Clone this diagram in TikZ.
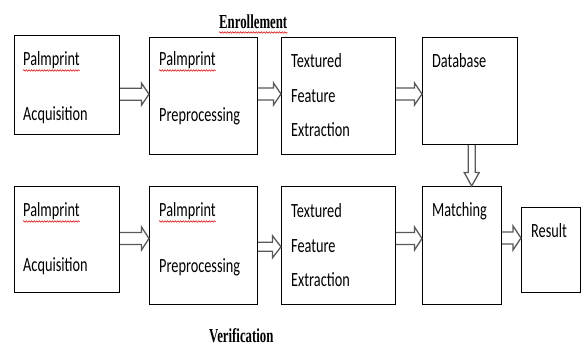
\documentclass[tikz,border=0pt]{standalone}
\usepackage{fontspec}
\usepackage{graphicx}
\setmainfont{Carlito}
\newfontfamily\serifbold{Liberation Serif}
\usetikzlibrary{calc,decorations.pathmorphing}

\newcommand\tx[1]{\scalebox{1}[1.41]{#1}}
\newcommand\hd[1]{\scalebox{1}[1.55]{\serifbold\bfseries #1}}

% horizontal block arrow: from, to, center y, shaft half, head half, head length
\newcommand\harrow[6]{%
 \draw[barrow] let \p1=(#1.east), \p2=(#2.west) in
 (\x1,{(#4-#3)*1pt}) -- ({\x2-#6*1pt},{(#4-#3)*1pt}) -- ({\x2-#6*1pt},{(#5-#3)*1pt})
 -- (\x2,{-#3*1pt}) -- ({\x2-#6*1pt},{(-#5-#3)*1pt}) -- ({\x2-#6*1pt},{(-#4-#3)*1pt})
 -- (\x1,{(-#4-#3)*1pt});}
% vertical block arrow: from, to, center x, shaft half, head half, head length
\newcommand\varrow[6]{%
 \draw[barrow] let \p1=(#1.south), \p2=(#2.north) in
 ({(#3-#4)*1pt},\y1) -- ({(#3-#4)*1pt},{\y2+#6*1pt}) -- ({(#3-#5)*1pt},{\y2+#6*1pt})
 -- ({#3*1pt},\y2) -- ({(#3+#5)*1pt},{\y2+#6*1pt}) -- ({(#3+#4)*1pt},{\y2+#6*1pt})
 -- ({(#3+#4)*1pt},\y1);}

\begin{document}
\begin{tikzpicture}[x=1pt,y=1pt,
 box/.style={draw=black, line width=1.1pt, anchor=north west, inner sep=0pt},
 lbl/.style={anchor=base west, inner sep=0pt, text=black, font=\fontsize{14.3}{17}\selectfont},
 hdl/.style={anchor=base west, inner sep=0pt, font=\fontsize{12.8}{15}\selectfont},
 barrow/.style={draw=black!65, line width=1.3pt, line join=miter},
 wavy/.style={draw=red!85!black, line width=0.5pt, decorate,
   decoration={snake, amplitude=0.8pt, segment length=2.6pt}}]

\useasboundingbox (0,0) rectangle (584,-347);

% boxes
\node[box, minimum width=105pt, minimum height=99pt]  (a1) at (14,-35) {};
\node[box, minimum width=108pt, minimum height=117pt] (a2) at (149,-37) {};
\node[box, minimum width=114pt, minimum height=117pt] (a3) at (281,-37) {};
\node[box, minimum width=95pt,  minimum height=107pt] (db) at (422,-37) {};
\node[box, minimum width=105pt, minimum height=106pt] (b1) at (14,-186) {};
\node[box, minimum width=108pt, minimum height=118pt] (b2) at (149,-186) {};
\node[box, minimum width=114pt, minimum height=118pt] (b3) at (281,-186) {};
\node[box, minimum width=79pt,  minimum height=118pt] (mt) at (422,-186) {};
\node[box, minimum width=59pt,  minimum height=85pt]  (rs) at (521,-207) {};

% texts top row
\node[lbl] (a1t1) at (23,-66)  {\tx{Palmprint}};
\node[lbl] (a1t2) at (23,-121) {\tx{Acquisition}};
\node[lbl] (a2t1) at (159,-66) {\tx{Palmprint}};
\node[lbl] (a2t2) at (159,-122) {\tx{Preprocessing}};
\node[lbl] (a3t1) at (291,-68) {\tx{Textured}};
\node[lbl] (a3t2) at (291,-103) {\tx{Feature}};
\node[lbl] (a3t3) at (291,-137) {\tx{Extraction}};
\node[lbl] (dbt)  at (432,-68) {\tx{Database}};
% texts bottom row
\node[lbl] (b1t1) at (23,-217)  {\tx{Palmprint}};
\node[lbl] (b1t2) at (23,-272)  {\tx{Acquisition}};
\node[lbl] (b2t1) at (159,-217) {\tx{Palmprint}};
\node[lbl] (b2t2) at (159,-273) {\tx{Preprocessing}};
\node[lbl] (b3t1) at (291,-218) {\tx{Textured}};
\node[lbl] (b3t2) at (291,-253) {\tx{Feature}};
\node[lbl] (b3t3) at (291,-287) {\tx{Extraction}};
\node[lbl] (mtt)  at (432,-217) {\tx{Matching}};
\node[lbl] (rst)  at (531,-238) {\tx{Result}};

% headings
\node[hdl] (enr) at (219,-29) {\hd{Enrollement}};
\node[hdl] (ver) at (209,-343) {\hd{Verification}};

% spell-check underlines
\foreach \n in {a1t1,a2t1,b1t1,b2t1}{
  \draw[wavy] ([yshift=-4.5pt]\n.base west) -- ([yshift=-4.5pt]\n.base east);}
\draw[wavy] ([yshift=-3.5pt]enr.base west) -- ([yshift=-3.5pt]enr.base east);

% block arrows
\harrow{a1}{a2}{94.2}{6}{11}{7.5}
\harrow{a2}{a3}{94}{6}{11}{7.5}
\harrow{a3}{db}{94}{6}{11}{7.5}
\harrow{b1}{b2}{238.5}{6}{11.5}{7.5}
\harrow{b2}{b3}{246.8}{4.5}{11}{8.5}
\harrow{b3}{mt}{238.5}{6}{11.5}{7.5}
\harrow{mt}{rs}{238}{6}{12}{8}
\varrow{db}{mt}{471.7}{3.5}{7.5}{13.5}
\end{tikzpicture}
\end{document}
